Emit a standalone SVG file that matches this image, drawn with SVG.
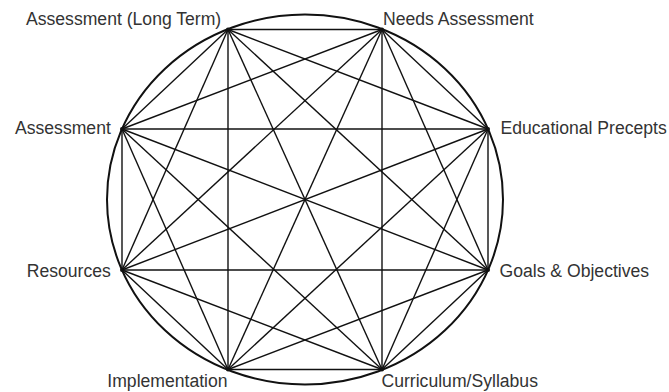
<svg xmlns="http://www.w3.org/2000/svg" width="669" height="392" viewBox="0 0 669 392">
<style>
.lbl{font-family:"Liberation Sans",Arial,sans-serif;font-size:17.6px;fill:#333}
.c line{stroke:#111;stroke-width:1.4}
.ring{fill:none;stroke:#111;stroke-width:2}
.pt{fill:#111}
</style>
<rect width="669" height="392" fill="#fff"/>
<ellipse class="ring" cx="305" cy="199.5" rx="198" ry="185"/>
<g id="connectors" class="c">
<line x1="228" y1="29.5" x2="382" y2="29.5"/>
<line x1="228" y1="29.5" x2="488" y2="129"/>
<line x1="228" y1="29.5" x2="488" y2="270"/>
<line x1="228" y1="29.5" x2="382" y2="369.5"/>
<line x1="228" y1="29.5" x2="228" y2="369.5"/>
<line x1="228" y1="29.5" x2="122" y2="270"/>
<line x1="228" y1="29.5" x2="122" y2="129"/>
<line x1="382" y1="29.5" x2="488" y2="129"/>
<line x1="382" y1="29.5" x2="488" y2="270"/>
<line x1="382" y1="29.5" x2="382" y2="369.5"/>
<line x1="382" y1="29.5" x2="228" y2="369.5"/>
<line x1="382" y1="29.5" x2="122" y2="270"/>
<line x1="382" y1="29.5" x2="122" y2="129"/>
<line x1="488" y1="129" x2="488" y2="270"/>
<line x1="488" y1="129" x2="382" y2="369.5"/>
<line x1="488" y1="129" x2="228" y2="369.5"/>
<line x1="488" y1="129" x2="122" y2="270"/>
<line x1="488" y1="129" x2="122" y2="129"/>
<line x1="488" y1="270" x2="382" y2="369.5"/>
<line x1="488" y1="270" x2="228" y2="369.5"/>
<line x1="488" y1="270" x2="122" y2="270"/>
<line x1="488" y1="270" x2="122" y2="129"/>
<line x1="382" y1="369.5" x2="228" y2="369.5"/>
<line x1="382" y1="369.5" x2="122" y2="270"/>
<line x1="382" y1="369.5" x2="122" y2="129"/>
<line x1="228" y1="369.5" x2="122" y2="270"/>
<line x1="228" y1="369.5" x2="122" y2="129"/>
<line x1="122" y1="270" x2="122" y2="129"/>
</g>
<g id="assessment-long-term"><circle class="pt" cx="228" cy="29.5" r="2"/><text class="lbl" x="26" y="25">Assessment (Long Term)</text></g>
<g id="needs-assessment"><circle class="pt" cx="382" cy="29.5" r="2"/><text class="lbl" x="383" y="25">Needs Assessment</text></g>
<g id="educational-precepts"><circle class="pt" cx="488" cy="129" r="2"/><text class="lbl" x="500.5" y="134">Educational Precepts</text></g>
<g id="goals-objectives"><circle class="pt" cx="488" cy="270" r="2"/><text class="lbl" x="499.5" y="276.7">Goals &amp; Objectives</text></g>
<g id="curriculum-syllabus"><circle class="pt" cx="382" cy="369.5" r="2"/><text class="lbl" x="381.5" y="387.3">Curriculum/Syllabus</text></g>
<g id="implementation"><circle class="pt" cx="228" cy="369.5" r="2"/><text class="lbl" x="107.3" y="387.3">Implementation</text></g>
<g id="resources"><circle class="pt" cx="122" cy="270" r="2"/><text class="lbl" x="26.7" y="277.3">Resources</text></g>
<g id="assessment"><circle class="pt" cx="122" cy="129" r="2"/><text class="lbl" x="15" y="134.3">Assessment</text></g>
</svg>
